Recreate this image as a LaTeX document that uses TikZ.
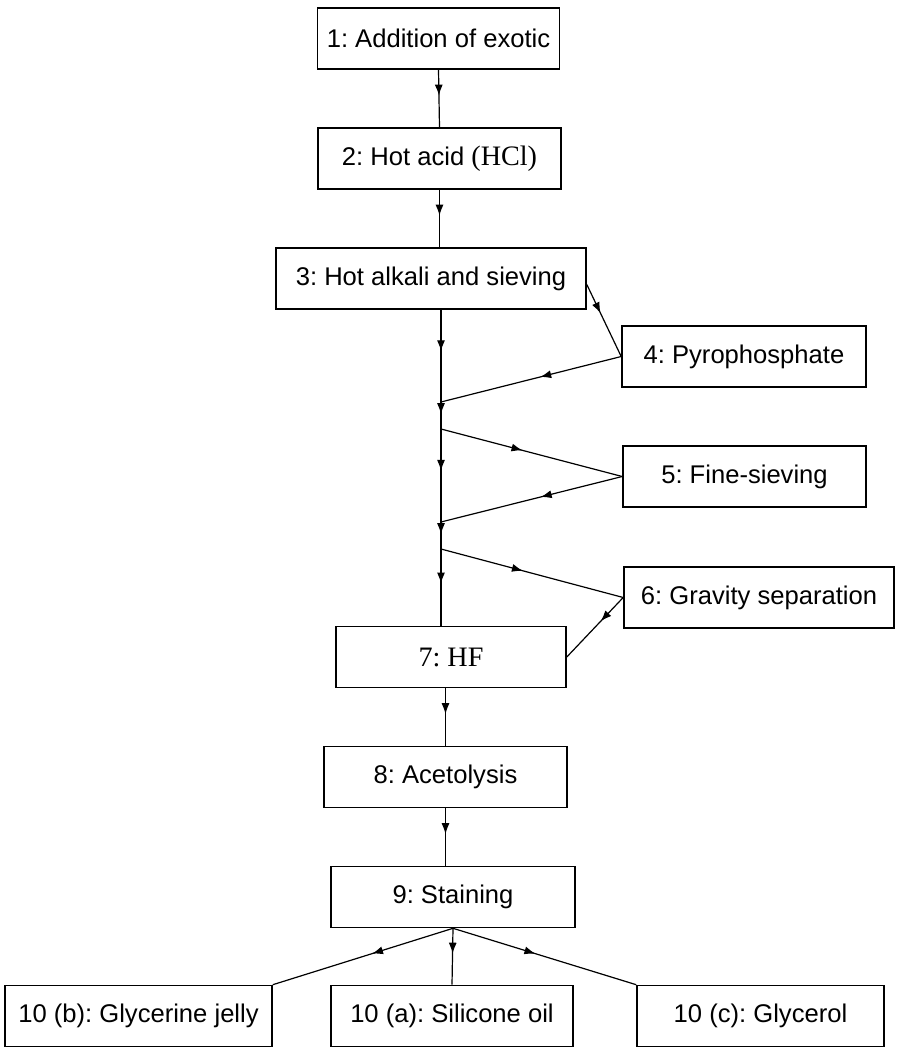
\documentclass[tikz,border=0pt]{standalone}
\usepackage{fontspec}
\setmainfont{Liberation Sans}
\newfontfamily\timesfont[Scale=1.1]{Liberation Serif}
\usetikzlibrary{arrows.meta,decorations.markings}
\frenchspacing

\tikzset{
    stepbox/.style={draw, line width=0.8pt, rectangle, inner sep=0pt,
        minimum height=30.5pt, font=\fontsize{12.8}{15}\selectfont},
    flow/.style={line width=0.6pt, postaction={decorate},
        decoration={markings, mark=at position #1 with {\arrow{Latex[length=5.5pt,width=4pt]}}}},
    flow/.default=0.45
}

\begin{document}
\begin{tikzpicture}[x=0.5pt,y=-0.5pt]
    \useasboundingbox (0,0) rectangle (896,1050);
    % boxes
    \node [stepbox, minimum width=121pt]   (n1)  at (438.5,38.5) {1: Addition of exotic};
    \node [stepbox, minimum width=121.5pt] (n2)  at (439.5,158.5) {2: Hot acid {\timesfont (HCl)}};
    \node [stepbox, minimum width=155pt]   (n3)  at (431,278.5) {3: Hot alkali and sieving};
    \node [stepbox, minimum width=122pt]   (n4)  at (744,356.5) {4: Pyrophosphate};
    \node [stepbox, minimum width=121.5pt] (n5)  at (744.5,476.5) {5: Fine-sieving};
    \node [stepbox, minimum width=135pt]   (n6)  at (759,597.5) {6: Gravity separation};
    \node [stepbox, minimum width=115pt]   (n7)  at (451,657) {\timesfont 7: HF};
    \node [stepbox, minimum width=121.5pt] (n8)  at (445.5,777) {8: Acetolysis};
    \node [stepbox, minimum width=122pt]   (n9)  at (453,897) {9: Staining};
    \node [stepbox, minimum width=133.5pt] (n10b) at (138.5,1016) {10 (b): Glycerine jelly};
    \node [stepbox, minimum width=121pt]   (n10a) at (452,1016) {10 (a): Silicone oil};
    \node [stepbox, minimum width=123.5pt] (n10c) at (760.5,1016) {10 (c): Glycerol};

    % straight steps
    \draw [flow] (n1.south) -- (n2.north);
    \draw [flow] (n2.south) -- (n2.south |- n3.north);
    \draw [flow] (n8.north |- n7.south) -- (n8.north);
    \draw [flow] (n8.south) -- (n8.south |- n9.north);

    % main line with side branches
    \coordinate (j4) at (441,402);
    \coordinate (s5) at (441,429);
    \coordinate (j5) at (441,522);
    \coordinate (s6) at (441,549);
    \coordinate (m0) at (j4 |- n3.south);
    \coordinate (m7) at (j4 |- n7.north);
    \foreach \a/\b in {m0/j4, j4/s5, s5/j5, j5/s6, s6/m7}
        \draw [flow] (\a) -- (\b);
    \draw [flow=0.4] ([yshift=-3pt]n3.east) -- (n4.west);
    \draw [flow] (n4.west) -- (j4);
    \draw [flow] (s5) -- (n5.west);
    \draw [flow] (n5.west) -- (j5);
    \draw [flow] (s6) -- (n6.west);
    \draw [flow=0.4] (n6.west) -- (n7.east);

    % mounting media
    \foreach \t in {n10b.north east, n10a.north, n10c.north west}
        \draw [flow] (n9.south) -- (\t);
\end{tikzpicture}
\end{document}
